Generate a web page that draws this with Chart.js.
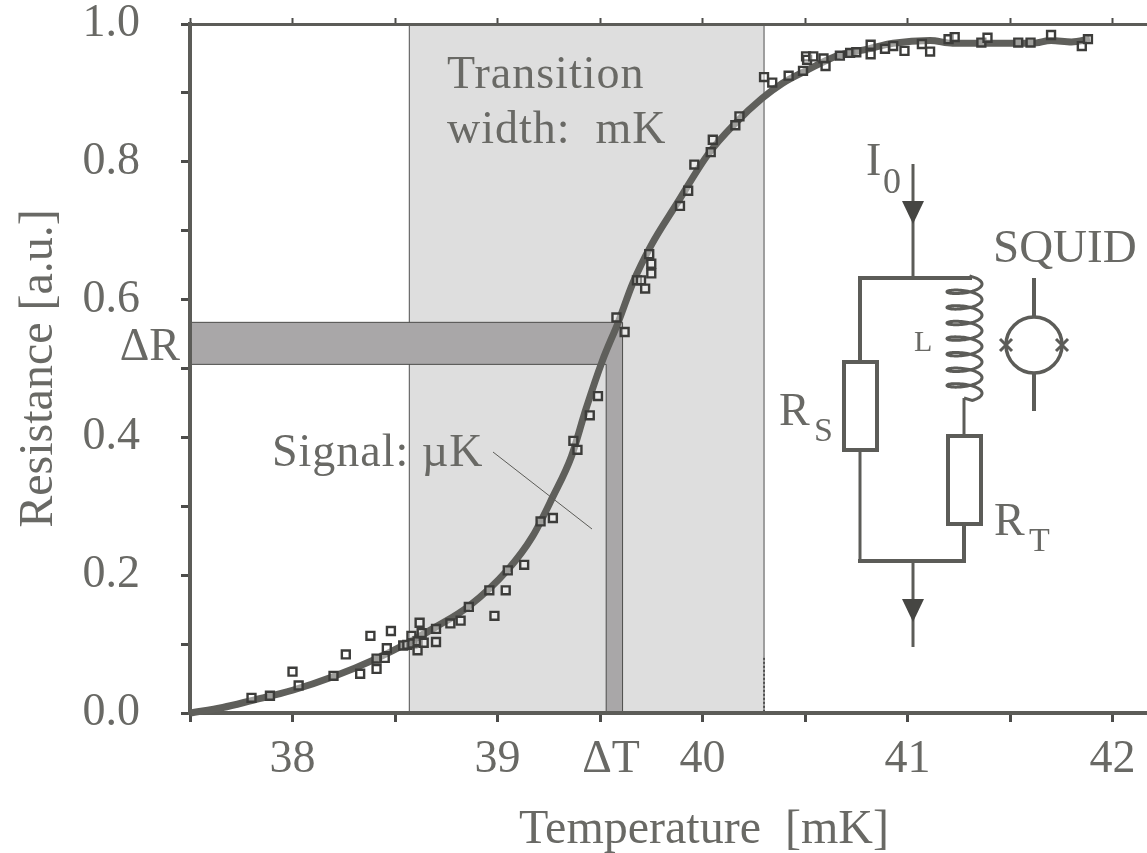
<!DOCTYPE html>
<html>
<head>
<meta charset="utf-8">
<title>Resistance vs temperature</title>
<script src="https://cdn.jsdelivr.net/npm/chart.js@4"></script>
<style>
    html, body { margin: 0; padding: 0; background: #fff; }
    canvas { display: block; }
</style>
</head>
<body>
<canvas id="chart" width="1147" height="853"></canvas>
<script>
const curveT = [37.5, 37.66, 37.80, 38.0, 38.20, 38.41, 38.57, 38.70, 38.86, 39.05, 39.17, 39.27, 39.36, 39.43, 39.51, 39.59, 39.66, 39.75, 39.87, 40.03, 40.16, 40.29, 40.39, 40.51, 40.65, 40.81, 40.93, 41.11, 41.22, 41.35, 41.61, 41.70, 41.80, 41.89];
const curveR = [0.0, 0.008, 0.018, 0.033, 0.053, 0.079, 0.103, 0.125, 0.155, 0.208, 0.256, 0.314, 0.372, 0.440, 0.510, 0.568, 0.624, 0.679, 0.737, 0.812, 0.856, 0.892, 0.914, 0.933, 0.953, 0.964, 0.972, 0.976, 0.972, 0.972, 0.972, 0.976, 0.974, 0.978];

const pointT = [37.80, 37.89, 38.00, 38.03, 38.20, 38.26, 38.33, 38.38, 38.41, 38.41, 38.45, 38.46, 38.48, 38.54, 38.56, 38.58, 38.585, 38.61, 38.61, 38.62, 38.63, 38.64, 38.70, 38.70, 38.77, 38.82, 38.86, 38.96, 38.985, 39.04, 39.05, 39.13, 39.21, 39.27,
    39.37, 39.39, 39.45, 39.49, 39.58, 39.62, 39.68, 39.70, 39.72, 39.74, 39.75, 39.75, 39.89, 39.93, 39.96, 40.04, 40.05, 40.16, 40.18,
    40.30, 40.34, 40.42, 40.49, 40.505, 40.51, 40.54, 40.59, 40.60, 40.67, 40.72, 40.75, 40.82, 40.82, 40.89, 40.93, 40.985, 41.07, 41.11, 41.20, 41.23, 41.36, 41.39, 41.54, 41.60, 41.70, 41.85, 41.88];
const pointR = [0.022, 0.025, 0.060, 0.040, 0.054, 0.085, 0.057, 0.112, 0.064, 0.079, 0.080, 0.094, 0.119, 0.098, 0.099, 0.112, 0.101, 0.091, 0.104, 0.131, 0.116, 0.102, 0.103, 0.122, 0.130, 0.134, 0.154, 0.178, 0.141, 0.178, 0.207, 0.215, 0.278, 0.283,
    0.395, 0.382, 0.432, 0.460, 0.574, 0.553, 0.628, 0.628, 0.616, 0.666, 0.638, 0.652, 0.736, 0.758, 0.796, 0.814, 0.832, 0.853, 0.866,
    0.923, 0.915, 0.925, 0.932, 0.953, 0.948, 0.953, 0.950, 0.939, 0.954, 0.958, 0.959, 0.970, 0.956, 0.964, 0.968, 0.961, 0.971, 0.960, 0.978, 0.981, 0.973, 0.980, 0.973, 0.973, 0.984, 0.968, 0.978];

const xTicks = [37.5, 38, 38.5, 39, 39.5, 40, 40.5, 41, 41.5, 42];
const xLabels = [38, 39, 40, 41, 42];
const yTicks = [0, 0.1, 0.2, 0.3, 0.4, 0.5, 0.6, 0.7, 0.8, 0.9, 1.0];
const yLabels = [0, 0.2, 0.4, 0.6, 0.8, 1.0];

const transitionBand = [38.57, 40.30];
const deltaRBand = [0.506, 0.567];
const deltaTBand = [39.53, 39.61];

const textColor = '#696965';
const lineColor = '#5c5c58';
const serif = '"Liberation Serif", serif';

function drawBands(chart) {
    const ctx = chart.ctx;
    const xs = chart.scales.x;
    const ys = chart.scales.y;
    const left = xs.getPixelForValue(transitionBand[0]);
    const right = xs.getPixelForValue(transitionBand[1]);
    const top = ys.getPixelForValue(1);
    const bottom = ys.getPixelForValue(0);
    const rTop = ys.getPixelForValue(deltaRBand[1]);
    const rBottom = ys.getPixelForValue(deltaRBand[0]);
    const tLeft = xs.getPixelForValue(deltaTBand[0]);
    const tRight = xs.getPixelForValue(deltaTBand[1]);

    ctx.save();
    ctx.fillStyle = '#dedede';
    ctx.strokeStyle = '#6a6a6a';
    ctx.lineWidth = 1.2;
    ctx.fillRect(left, top, right - left, bottom - top);
    ctx.strokeRect(left, top, right - left, bottom - top);

    ctx.setLineDash([2, 2]);
    ctx.strokeStyle = '#222';
    ctx.beginPath();
    ctx.moveTo(right, ys.getPixelForValue(0.08));
    ctx.lineTo(right, bottom);
    ctx.stroke();
    ctx.setLineDash([]);

    ctx.fillStyle = '#a9a7a8';
    ctx.strokeStyle = '#4c4c4a';
    ctx.lineWidth = 1;
    ctx.beginPath();
    ctx.moveTo(xs.left, rTop);
    ctx.lineTo(tRight, rTop);
    ctx.lineTo(tRight, bottom);
    ctx.lineTo(tLeft, bottom);
    ctx.lineTo(tLeft, rBottom);
    ctx.lineTo(xs.left, rBottom);
    ctx.closePath();
    ctx.fill();
    ctx.stroke();
    ctx.restore();
}

function segment(ctx, x1, y1, x2, y2, width) {
    ctx.lineWidth = width;
    ctx.beginPath();
    ctx.moveTo(x1, y1);
    ctx.lineTo(x2, y2);
    ctx.stroke();
}

function arrow(ctx, x, y) {
    ctx.beginPath();
    ctx.moveTo(x - 11, y);
    ctx.lineTo(x + 11, y);
    ctx.lineTo(x, y + 23);
    ctx.closePath();
    ctx.fill();
}

function drawCircuit(ctx) {
    ctx.save();
    ctx.strokeStyle = lineColor;
    ctx.fillStyle = '#464643';
    ctx.lineCap = 'butt';

    segment(ctx, 913, 164, 913, 278, 3);
    arrow(ctx, 913, 201);
    segment(ctx, 858, 278, 972, 278, 4);
    segment(ctx, 860, 278, 860, 362, 4);
    segment(ctx, 860, 450, 860, 561, 3);
    segment(ctx, 858, 561, 966, 561, 4);
    segment(ctx, 913, 561, 913, 647, 3);
    arrow(ctx, 913, 599);

    ctx.lineWidth = 4;
    ctx.strokeRect(844, 362, 33, 88);
    ctx.strokeRect(948, 436, 33, 88);
    segment(ctx, 964, 398, 964, 436, 3);
    segment(ctx, 964, 524, 964, 561, 4);

    // inductor
    ctx.lineWidth = 3;
    ctx.beginPath();
    ctx.moveTo(970, 278);
    for (let a = -1.2; a <= Math.PI * 14 + 1.2; a += 0.1) {
        const px = 964.5 + 17.5 * Math.cos(a);
        const py = 284 + a / (Math.PI * 2) * 15.6 + 5 * Math.sin(a);
        ctx.lineTo(px, py);
    }
    ctx.lineTo(964, 398);
    ctx.stroke();

    // SQUID loop
    segment(ctx, 1034, 278, 1034, 317, 4);
    segment(ctx, 1034, 373, 1034, 411, 4);
    ctx.lineWidth = 3.5;
    ctx.beginPath();
    ctx.arc(1034, 345, 28, 0, Math.PI * 2);
    ctx.stroke();
    [1006, 1062].forEach(cx => {
        segment(ctx, cx - 6, 339, cx + 6, 351, 3);
        segment(ctx, cx - 6, 351, cx + 6, 339, 3);
    });

    segment(ctx, 493, 452, 592, 529, 1);
    ctx.restore();
}

function label(ctx, text, x, y, size, align) {
    ctx.font = `${size}px ${serif}`;
    ctx.textAlign = align || 'left';
    ctx.fillText(text, x, y);
}

function drawLabels(ctx) {
    ctx.save();
    ctx.fillStyle = textColor;
    ctx.textBaseline = 'alphabetic';
    ctx.letterSpacing = '1px';
    label(ctx, 'Transition', 447, 88, 46);
    label(ctx, 'width:  mK', 447, 143, 46);
    label(ctx, 'Signal: \u00b5K', 272, 466, 46);
    ctx.letterSpacing = '0px';
    label(ctx, '\u0394R', 180, 360, 46, 'right');
    label(ctx, '\u0394T', 611, 772, 46, 'center');
    label(ctx, 'I', 866, 175, 46);
    label(ctx, '0', 883, 193, 36);
    label(ctx, 'SQUID', 993, 262, 47);
    label(ctx, 'L', 914, 351, 30);
    label(ctx, 'R', 779, 425, 46);
    label(ctx, 'S', 814, 441, 34);
    label(ctx, 'R', 994, 535, 46);
    label(ctx, 'T', 1029, 551, 34);
    label(ctx, 'Temperature  [mK]', 704, 843, 48, 'center');
    ctx.restore();
}

const annotations = {
    id: 'annotations',
    beforeDraw: drawBands,
    afterDraw(chart) {
        drawCircuit(chart.ctx);
        drawLabels(chart.ctx);
    }
};

function noPadding(s) {
    s.paddingTop = 0;
    s.paddingBottom = 0;
    s.paddingLeft = 0;
    s.paddingRight = 0;
}

const axisGrid = { drawOnChartArea: false, tickLength: 9, tickWidth: 3, tickColor: '#4c4c4a' };
const axisBorder = { color: lineColor, width: 4 };

new Chart(document.getElementById('chart'), {
    type: 'scatter',
    data: {
        datasets: [
            {
                label: 'Measured',
                data: pointT.map((t, i) => ({ x: t, y: pointR[i] })),
                pointStyle: 'rect',
                pointRadius: 5.6,
                pointBorderWidth: 2.4,
                pointBorderColor: '#3c3c3a',
                pointBackgroundColor: 'rgba(255,255,255,0.4)',
                showLine: false,
                order: 1
            },
            {
                label: 'Fit',
                data: curveT.map((t, i) => ({ x: t, y: curveR[i] })),
                showLine: true,
                borderColor: '#5f5f5b',
                borderWidth: 7,
                cubicInterpolationMode: 'monotone',
                pointRadius: 0,
                clip: false,
                order: 2
            }
        ]
    },
    plugins: [annotations],
    options: {
        responsive: false,
        animation: false,
        devicePixelRatio: 1,
        layout: { padding: 0, autoPadding: false },
        plugins: { legend: { display: false }, tooltip: { enabled: false } },
        scales: {
            x: {
                type: 'linear',
                min: 37.5,
                max: 42.168,
                afterFit: s => { s.height = 140; noPadding(s); },
                afterBuildTicks: s => { s.ticks = xTicks.map(v => ({ value: v })); },
                grid: axisGrid,
                border: axisBorder,
                ticks: {
                    autoSkip: false,
                    maxRotation: 0,
                    padding: 10,
                    color: textColor,
                    font: { family: serif, size: 46 },
                    callback: v => xLabels.includes(v) ? String(v) : ''
                }
            },
            top: {
                type: 'linear',
                position: 'top',
                min: 37.5,
                max: 42.168,
                afterFit: s => { s.height = 24; noPadding(s); },
                afterBuildTicks: s => { s.ticks = xTicks.map(v => ({ value: v })); },
                grid: { drawOnChartArea: false, tickLength: 6, tickWidth: 2, tickColor: '#4c4c4a' },
                border: { color: lineColor, width: 3 },
                ticks: { autoSkip: false, maxRotation: 0, padding: 0, font: { size: 1 }, callback: () => '' }
            },
            y: {
                type: 'linear',
                min: 0,
                max: 1,
                afterFit: s => { s.width = 190; noPadding(s); },
                afterBuildTicks: s => { s.ticks = yTicks.map(v => ({ value: v })); },
                grid: axisGrid,
                border: axisBorder,
                title: {
                    display: true,
                    text: 'Resistance [a.u.]',
                    color: textColor,
                    font: { family: serif, size: 48 },
                    padding: { top: 11, bottom: 0 }
                },
                ticks: {
                    autoSkip: false,
                    padding: 41,
                    color: textColor,
                    font: { family: serif, size: 46 },
                    callback: v => yLabels.includes(v) ? v.toFixed(1) : ''
                }
            }
        }
    }
});
</script>
</body>
</html>
